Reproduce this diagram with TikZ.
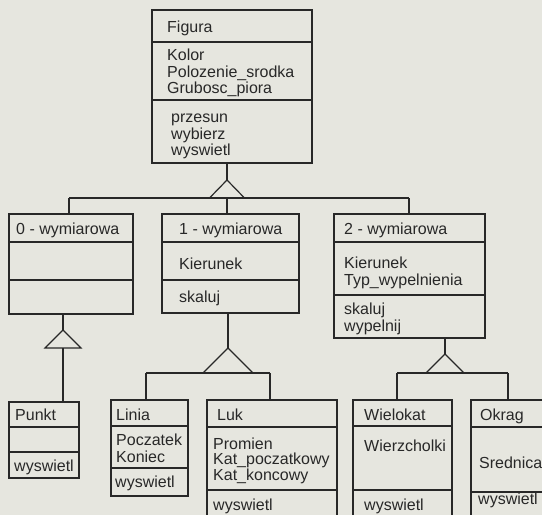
\documentclass[tikz,border=0pt]{standalone}
\usepackage{fontspec}
\setmainfont{Liberation Sans}
\usetikzlibrary{fit}
\definecolor{bg}{RGB}{230,230,223}
\definecolor{ink}{RGB}{40,40,40}
\begin{document}
\begin{tikzpicture}[x=1pt,y=-1pt,
  box/.style={draw=ink, line width=1.2pt, inner sep=0pt, outer sep=0pt},
  ln/.style={draw=ink, line width=1.2pt},
  lbl/.style={anchor=west, inner sep=0pt, text height=11.5pt, text depth=0pt, text=ink, font=\fontsize{16}{17}\selectfont}]
\clip (0,0) rectangle (542,515);
\fill[bg] (0,0) rectangle (542,515);

% class boxes
\node[box, fit={(152,10) (312,163)}] (fig) {};
\node[box, fit={(9,214) (133,314)}] (w0) {};
\node[box, fit={(162,214) (299,313)}] (w1) {};
\node[box, fit={(334,214) (485,338)}] (w2) {};
\node[box, fit={(9,402) (79,478)}] (punkt) {};
\node[box, fit={(111,400) (188,496)}] (linia) {};
\node[box, fit={(207,400) (337,530)}] (luk) {};
\node[box, fit={(353,400) (452,530)}] (wiel) {};
\node[box, fit={(471,400) (570,530)}] (okrag) {};

% compartment dividers
\draw[ln] (fig.west |- 0,42) -- (fig.east |- 0,42);
\draw[ln] (fig.west |- 0,100) -- (fig.east |- 0,100);
\draw[ln] (w0.west |- 0,242) -- (w0.east |- 0,242);
\draw[ln] (w0.west |- 0,280) -- (w0.east |- 0,280);
\draw[ln] (w1.west |- 0,242) -- (w1.east |- 0,242);
\draw[ln] (w1.west |- 0,280) -- (w1.east |- 0,280);
\draw[ln] (w2.west |- 0,242) -- (w2.east |- 0,242);
\draw[ln] (w2.west |- 0,295) -- (w2.east |- 0,295);
\draw[ln] (punkt.west |- 0,427) -- (punkt.east |- 0,427);
\draw[ln] (punkt.west |- 0,452) -- (punkt.east |- 0,452);
\draw[ln] (linia.west |- 0,426) -- (linia.east |- 0,426);
\draw[ln] (linia.west |- 0,468) -- (linia.east |- 0,468);
\draw[ln] (luk.west |- 0,427) -- (luk.east |- 0,427);
\draw[ln] (luk.west |- 0,490) -- (luk.east |- 0,490);
\draw[ln] (wiel.west |- 0,426) -- (wiel.east |- 0,426);
\draw[ln] (wiel.west |- 0,490) -- (wiel.east |- 0,490);
\draw[ln] (okrag.west |- 0,427) -- (okrag.east |- 0,427);
\draw[ln] (okrag.west |- 0,492) -- (okrag.east |- 0,492);

% texts
\node[lbl] (figN) at (167,27) {Figura};
\node[lbl] (figA1) at (167,55) {Kolor};
\node[lbl] (figA2) at (167,71.5) {Polozenie\_srodka};
\node[lbl] (figA3) at (167,88) {Grubosc\_piora};
\node[lbl] (figM1) at (171,117) {przesun};
\node[lbl] (figM2) at (171,133.5) {wybierz};
\node[lbl] (figM3) at (171,150) {wyswietl};

\node[lbl] (w0N) at (16,229) {0 - wymiarowa};

\node[lbl] (w1N) at (179,229) {1 - wymiarowa};
\node[lbl] (w1A) at (179,264) {Kierunek};
\node[lbl] (w1M) at (179,297) {skaluj};

\node[lbl] (w2N) at (344,229) {2 - wymiarowa};
\node[lbl] (w2A1) at (344,263) {Kierunek};
\node[lbl] (w2A2) at (344,280) {Typ\_wypelnienia};
\node[lbl] (w2M1) at (344,309) {skaluj};
\node[lbl] (w2M2) at (344,326) {wypelnij};

\node[lbl] (pN) at (15,415) {Punkt};
\node[lbl] (pM) at (14,466) {wyswietl};

\node[lbl] (lN) at (116,415) {Linia};
\node[lbl] (lA1) at (116,440) {Poczatek};
\node[lbl] (lA2) at (116,457) {Koniec};
\node[lbl] (lM) at (115,482) {wyswietl};

\node[lbl] (kN) at (217,415) {Luk};
\node[lbl] (kA1) at (213,444) {Promien};
\node[lbl] (kA2) at (213,459) {Kat\_poczatkowy};
\node[lbl] (kA3) at (213,474.5) {Kat\_koncowy};
\node[lbl] (kM) at (213,505) {wyswietl};

\node[lbl] (wN) at (364,415) {Wielokat};
\node[lbl] (wA) at (364,446) {Wierzcholki};
\node[lbl] (wM) at (364,505) {wyswietl};

\node[lbl] (oN) at (480,415) {Okrag};
\node[lbl] (oA) at (479,463) {Srednica};
\node[lbl] (oM) at (478,499) {wyswietl};

% generalisation: Figura
\coordinate (t1) at (227,180);
\coordinate (h1a) at (69,198);
\coordinate (h1b) at (409,198);
\draw[ln] (fig.south -| t1) -- (t1);
\draw[ln, line join=miter] (t1) -- ++(-17.5,18) -- ++(35,0) -- cycle;
\draw[ln] (h1a) -- (h1b);
\draw[ln] (h1a) -- (h1a |- w0.north);
\draw[ln] (t1 |- h1a) -- (t1 |- w1.north);
\draw[ln] (h1b) -- (h1b |- w2.north);

% generalisation: 0 - wymiarowa
\coordinate (t2) at (63,330);
\coordinate (t2b) at (63,348);
\draw[ln] (w0.south -| t2) -- (t2);
\draw[ln, line join=miter] (t2) -- ++(-18,18) -- ++(36,0) -- cycle;
\draw[ln] (t2b) -- (t2b |- punkt.north);

% generalisation: 1 - wymiarowa
\coordinate (t3) at (228,348);
\coordinate (h3a) at (146,373);
\coordinate (h3b) at (270,373);
\draw[ln] (w1.south -| t3) -- (t3);
\draw[ln, line join=miter] (t3) -- ++(-25,25) -- ++(50,0) -- cycle;
\draw[ln] (h3a) -- (h3b);
\draw[ln] (h3a) -- (h3a |- linia.north);
\draw[ln] (h3b) -- (h3b |- luk.north);

% generalisation: 2 - wymiarowa
\coordinate (t4) at (445,354);
\coordinate (h4a) at (397,373);
\coordinate (h4b) at (508,373);
\draw[ln] (w2.south -| t4) -- (t4);
\draw[ln, line join=miter] (t4) -- ++(-19,19) -- ++(38,0) -- cycle;
\draw[ln] (h4a) -- (h4b);
\draw[ln] (h4a) -- (h4a |- wiel.north);
\draw[ln] (h4b) -- (h4b |- okrag.north);
\end{tikzpicture}
\end{document}
